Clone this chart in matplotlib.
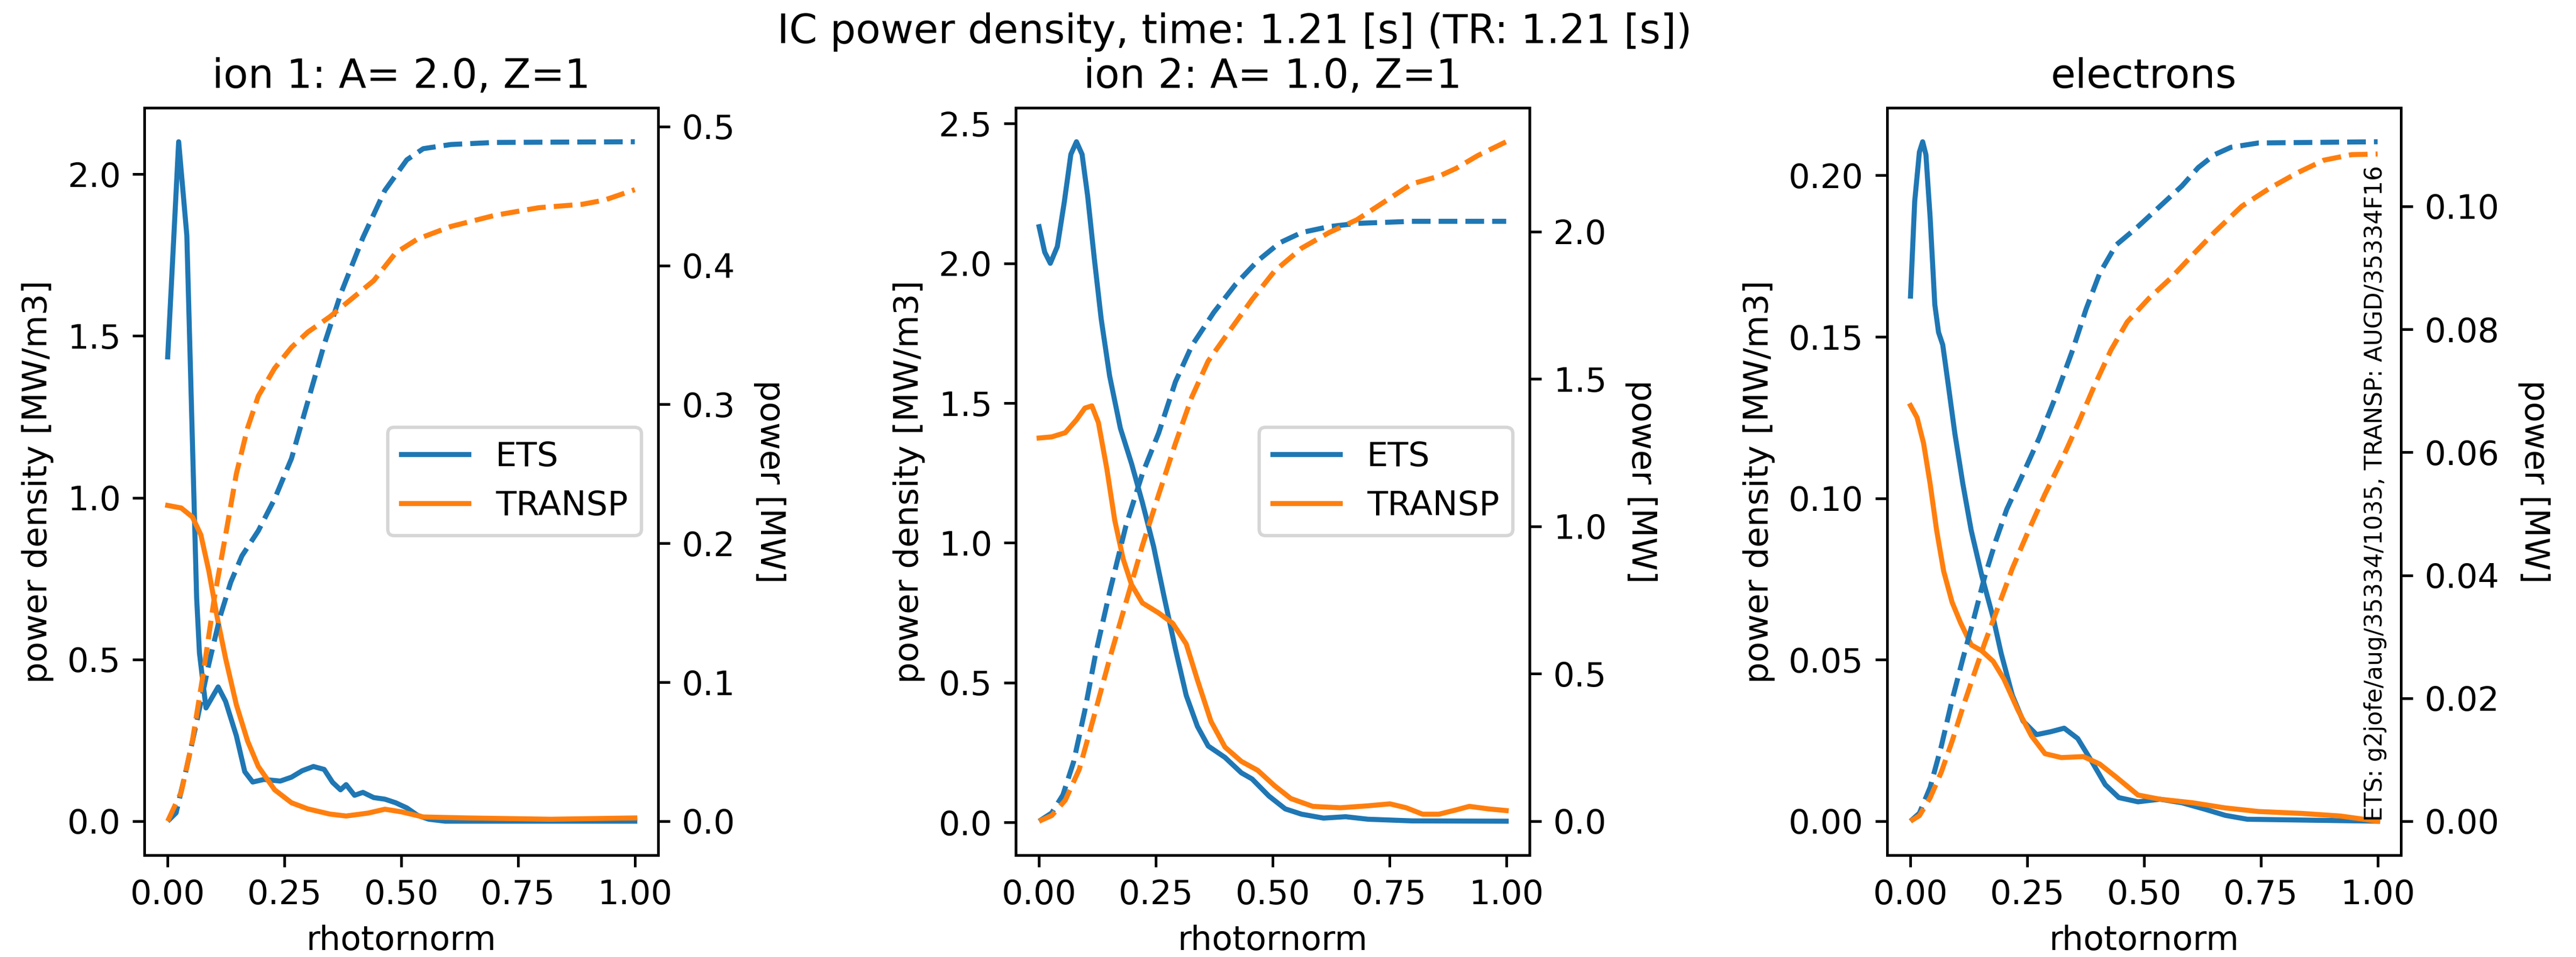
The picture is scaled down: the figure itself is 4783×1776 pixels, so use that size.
import matplotlib
matplotlib.use("Agg")
import matplotlib.pyplot as plt

# ion 1: A=2.0, Z=1
ion1_x_ets = [0.0, 0.0235, 0.041, 0.053, 0.062, 0.068, 0.082, 0.094, 0.108, 0.124,
              0.147, 0.165, 0.182, 0.206, 0.241, 0.265, 0.288, 0.312, 0.335, 0.353,
              0.37, 0.382, 0.4, 0.418, 0.441, 0.465, 0.488, 0.512, 0.535, 0.559,
              0.594, 0.7, 0.85, 1.0]
ion1_pd_ets = [1.435, 2.10, 1.81, 1.17, 0.69, 0.52, 0.35, 0.38, 0.415, 0.37,
               0.264, 0.153, 0.121, 0.129, 0.124, 0.136, 0.156, 0.169, 0.16, 0.12,
               0.097, 0.113, 0.08, 0.089, 0.073, 0.068, 0.057, 0.041, 0.018, 0.006,
               0.0, 0.0, 0.0, 0.0]
ion1_x_tr = [0.0, 0.029, 0.053, 0.071, 0.088, 0.106, 0.124, 0.147, 0.171, 0.194,
             0.229, 0.265, 0.3, 0.347, 0.382, 0.429, 0.465, 0.5, 0.547, 0.64,
             0.82, 1.0]
ion1_pd_tr = [0.976, 0.968, 0.94, 0.885, 0.774, 0.63, 0.503, 0.36, 0.248, 0.169,
              0.097, 0.057, 0.038, 0.022, 0.016, 0.025, 0.037, 0.029, 0.013, 0.01,
              0.006, 0.01]
ion1_xp_ets = [0.0, 0.018, 0.041, 0.065, 0.088, 0.112, 0.135, 0.159, 0.194, 0.229,
               0.265, 0.3, 0.335, 0.371, 0.418, 0.465, 0.512, 0.547, 0.606, 0.7, 1.0]
ion1_p_ets = [0.0, 0.006, 0.039, 0.076, 0.113, 0.147, 0.172, 0.191, 0.209, 0.232,
              0.261, 0.302, 0.343, 0.38, 0.42, 0.454, 0.476, 0.484, 0.487, 0.4885, 0.489]
ion1_xp_tr = [0.0, 0.029, 0.053, 0.076, 0.1, 0.124, 0.147, 0.171, 0.194, 0.229,
              0.265, 0.3, 0.347, 0.394, 0.441, 0.488, 0.535, 0.606, 0.7, 0.794,
              0.888, 0.935, 1.0]
ion1_p_tr = [0.0, 0.021, 0.058, 0.106, 0.161, 0.206, 0.25, 0.283, 0.306, 0.326,
             0.341, 0.352, 0.363, 0.376, 0.389, 0.409, 0.419, 0.428, 0.436, 0.4415,
             0.444, 0.447, 0.4545]

# ion 2: A=1.0, Z=1
ion2_x_ets = [0.0, 0.012, 0.024, 0.039, 0.054, 0.068, 0.08, 0.092, 0.104, 0.118,
              0.133, 0.151, 0.174, 0.198, 0.221, 0.245, 0.268, 0.292, 0.315, 0.339,
              0.362, 0.398, 0.433, 0.456, 0.492, 0.527, 0.562, 0.609, 0.656, 0.704,
              0.8, 1.0]
ion2_pd_ets = [2.131, 2.04, 2.0, 2.06, 2.22, 2.39, 2.435, 2.39, 2.24, 2.02,
               1.80, 1.597, 1.41, 1.283, 1.145, 0.988, 0.804, 0.619, 0.454, 0.343,
               0.273, 0.232, 0.177, 0.155, 0.094, 0.048, 0.029, 0.015, 0.02, 0.011,
               0.005, 0.004]
ion2_x_tr = [0.0, 0.027, 0.056, 0.08, 0.098, 0.113, 0.127, 0.145, 0.162, 0.18,
             0.198, 0.221, 0.256, 0.286, 0.315, 0.339, 0.368, 0.398, 0.433, 0.468,
             0.504, 0.539, 0.586, 0.645, 0.704, 0.751, 0.786, 0.821, 0.856, 0.892,
             0.921, 0.962, 1.0]
ion2_pd_tr = [1.375, 1.379, 1.394, 1.44, 1.482, 1.49, 1.43, 1.265, 1.08, 0.942,
              0.85, 0.785, 0.749, 0.712, 0.638, 0.509, 0.361, 0.269, 0.218, 0.186,
              0.131, 0.085, 0.057, 0.052, 0.059, 0.066, 0.052, 0.029, 0.029, 0.044,
              0.057, 0.048, 0.042]
ion2_xp_ets = [0.0, 0.027, 0.051, 0.074, 0.098, 0.121, 0.151, 0.186, 0.221, 0.256,
               0.292, 0.327, 0.374, 0.421, 0.468, 0.515, 0.562, 0.621, 0.68, 0.798, 1.0]
ion2_p_ets = [0.0, 0.028, 0.089, 0.202, 0.376, 0.568, 0.777, 1.003, 1.178, 1.317,
              1.491, 1.613, 1.726, 1.822, 1.901, 1.962, 1.997, 2.017, 2.028, 2.035, 2.035]
ion2_xp_tr = [0.0, 0.027, 0.056, 0.086, 0.115, 0.151, 0.186, 0.221, 0.256, 0.292,
              0.327, 0.362, 0.409, 0.456, 0.504, 0.562, 0.621, 0.68, 0.739, 0.798,
              0.856, 0.892, 0.939, 1.0]
ion2_p_tr = [0.0, 0.019, 0.071, 0.176, 0.341, 0.551, 0.742, 0.934, 1.108, 1.282,
             1.439, 1.561, 1.666, 1.77, 1.866, 1.944, 1.997, 2.04, 2.101, 2.162,
             2.188, 2.214, 2.258, 2.305]

# electrons
el_x_ets = [0.0, 0.009, 0.019, 0.026, 0.033, 0.042, 0.052, 0.06, 0.069, 0.08,
            0.095, 0.112, 0.13, 0.153, 0.177, 0.194, 0.218, 0.241, 0.27, 0.3,
            0.329, 0.358, 0.388, 0.417, 0.446, 0.487, 0.534, 0.581, 0.628, 0.674,
            0.721, 1.0]
el_pd_ets = [0.1626, 0.192, 0.2072, 0.2104, 0.2064, 0.187, 0.160, 0.1514, 0.1475, 0.136,
             0.120, 0.1045, 0.090, 0.0758, 0.063, 0.052, 0.039, 0.031, 0.0268, 0.0277,
             0.0288, 0.0256, 0.0185, 0.0113, 0.0073, 0.006, 0.0068, 0.0057, 0.0038, 0.0018,
             0.0006, 0.0]
el_x_tr = [0.0, 0.014, 0.028, 0.042, 0.056, 0.071, 0.089, 0.107, 0.13, 0.153,
           0.177, 0.2, 0.23, 0.259, 0.288, 0.323, 0.37, 0.405, 0.44, 0.487,
           0.534, 0.604, 0.674, 0.745, 0.838, 0.92, 1.0]
el_pd_tr = [0.1287, 0.125, 0.117, 0.1045, 0.090, 0.0774, 0.0678, 0.0615, 0.0546, 0.0527,
            0.0495, 0.044, 0.0344, 0.0264, 0.0209, 0.0197, 0.020, 0.0177, 0.0137, 0.0081,
            0.0068, 0.0057, 0.0041, 0.003, 0.0024, 0.0016, 0.0]
el_xp_ets = [0.0, 0.019, 0.042, 0.066, 0.089, 0.112, 0.136, 0.159, 0.183, 0.206,
             0.241, 0.276, 0.311, 0.347, 0.376, 0.405, 0.44, 0.487, 0.534, 0.581,
             0.616, 0.651, 0.686, 0.745, 1.0]
el_p_ets = [0.0, 0.0013, 0.0055, 0.0122, 0.0197, 0.0264, 0.0331, 0.0398, 0.0457, 0.0507,
            0.0565, 0.0624, 0.0691, 0.0766, 0.0833, 0.0891, 0.0937, 0.0967, 0.100, 0.1033,
            0.1063, 0.1084, 0.1096, 0.1103, 0.1105]
el_xp_tr = [0.0, 0.019, 0.042, 0.066, 0.089, 0.112, 0.136, 0.159, 0.183, 0.218,
            0.253, 0.288, 0.323, 0.358, 0.393, 0.429, 0.464, 0.51, 0.557, 0.604,
            0.651, 0.709, 0.768, 0.827, 0.885, 0.944, 1.0]
el_p_tr = [0.0, 0.0009, 0.0038, 0.008, 0.013, 0.0185, 0.0239, 0.029, 0.0339, 0.0411,
           0.0473, 0.0532, 0.0586, 0.0645, 0.0707, 0.0766, 0.0812, 0.085, 0.0883, 0.0921,
           0.0958, 0.100, 0.1029, 0.1054, 0.1075, 0.1084, 0.1085]

TITLES = ["ion 1: A= 2.0, Z=1", "ion 2: A= 1.0, Z=1", "electrons"]
SOURCE = "ETS: g2jofe/aug/35334/1035, TRANSP: AUGD/35334F16"

panels = [
    (ion1_x_ets, ion1_pd_ets, ion1_x_tr, ion1_pd_tr,
     ion1_xp_ets, ion1_p_ets, ion1_xp_tr, ion1_p_tr),
    (ion2_x_ets, ion2_pd_ets, ion2_x_tr, ion2_pd_tr,
     ion2_xp_ets, ion2_p_ets, ion2_xp_tr, ion2_p_tr),
    (el_x_ets, el_pd_ets, el_x_tr, el_pd_tr,
     el_xp_ets, el_p_ets, el_xp_tr, el_p_tr),
]

fig, axes = plt.subplots(1, 3, figsize=(4783 / 450, 1776 / 450), dpi=450)
fig.subplots_adjust(left=268 / 4783, right=4458 / 4783,
                    bottom=1 - 1587 / 1776, top=1 - 200 / 1776, wspace=0.696)

for i, (ax, data) in enumerate(zip(axes, panels)):
    xe, pe, xt, pt, xpe, ppe, xpt, ppt = data
    ax.plot(xe, pe, color="C0", label="ETS")
    ax.plot(xt, pt, color="C1", label="TRANSP")
    ax.set_xlabel("rhotornorm")
    ax.set_ylabel("power density [MW/m3]")
    ax.set_title(TITLES[i])
    if i < 2:
        ax.legend(loc="center right")
    ax2 = ax.twinx()
    ax2.plot(xpe, ppe, "--", color="C0")
    ax2.plot(xpt, ppt, "--", color="C1")
    ax2.set_ylabel("power [MW]", rotation=270, labelpad=15)
    if i == 2:
        ax.text(0.995, 0.0, SOURCE, rotation=90, fontsize=7,
                ha="center", va="bottom")

fig.suptitle("IC power density, time: 1.21 [s] (TR: 1.21 [s])",
             x=2292 / 4783, y=1 - 80 / 1776, va="baseline", fontsize=12)

fig.savefig("out.png", dpi=450)
